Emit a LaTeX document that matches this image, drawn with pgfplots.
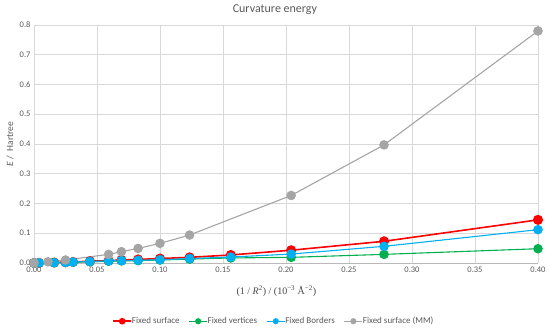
\documentclass[border=0pt]{standalone}
\usepackage{pgfplots}
\pgfplotsset{compat=1.18}
\usepackage{fontspec}
\setmainfont{Carlito}
\newfontfamily\serifx{Liberation Serif}
\definecolor{cRed}{HTML}{FF0000}
\definecolor{cGreen}{HTML}{00B050}
\definecolor{cBlue}{HTML}{00B0F0}
\definecolor{cGray}{HTML}{A5A5A5}
\definecolor{txt}{HTML}{595959}
\definecolor{gridc}{HTML}{D9D9D9}
\begin{document}
\begin{tikzpicture}
\begin{axis}[
  at={(0pt,0pt)}, anchor=origin,
  scale only axis, width=504pt, height=238pt,
  xmin=0, xmax=0.4, ymin=0, ymax=0.8,
  xtick={0,0.05,...,0.401}, ytick={0,0.1,...,0.801},
  grid=major, major grid style={gridc, line width=0.6pt},
  axis x line*=bottom, axis y line*=left,
  x axis line style={draw=gray!55, line width=0.6pt, -},
  y axis line style={draw=none},
  major tick style={draw=none},
  /pgf/number format/assume math mode=true,
  xticklabel style={/pgf/number format/.cd, fixed, fixed zerofill, precision=2},
  yticklabel style={/pgf/number format/.cd, fixed, fixed zerofill, precision=1},
  ticklabel style={font=\fontsize{8.5}{10}\selectfont, text=txt},
  legend style={at={(0.476,-0.21)}, anchor=north, draw=none, fill=none,
    legend columns=4, font=\fontsize{9}{11}\selectfont, text=txt,
    /tikz/every even column/.append style={column sep=7pt},
    /tikz/every odd column/.append style={column sep=-2pt}},
  legend cell align=left,
  legend image code/.code={
    \draw[#1, mark=none] plot coordinates {(0pt,0pt) (18pt,0pt)};
    \draw[#1, mark size=2.5pt, draw=none] plot[mark=*] coordinates {(9pt,0pt)};
  },
  clip=false,
]
\addplot[cRed, line width=1.6pt, mark=*, mark size=4.2pt, mark options={solid, fill=cRed, draw=cRed}] coordinates {
(0,0) (0.004,0.0005) (0.016,0.0015) (0.025,0.0025) (0.0309,0.0035) (0.0444,0.006)
(0.0592,0.008) (0.0694,0.010) (0.0826,0.012) (0.1,0.015) (0.1235,0.019)
(0.1562,0.027) (0.2041,0.043) (0.2778,0.073) (0.4,0.145)};
\addlegendentry{Fixed surface}
\addplot[cGreen, line width=1.1pt, mark=*, mark size=4.2pt, mark options={solid, fill=cGreen, draw=cGreen}] coordinates {
(0,0) (0.004,0.0005) (0.016,0.001) (0.025,0.002) (0.0309,0.003) (0.0444,0.004)
(0.0592,0.006) (0.0694,0.007) (0.0826,0.008) (0.1,0.010) (0.1235,0.013)
(0.1562,0.017) (0.2041,0.019) (0.2778,0.029) (0.4,0.048)};
\addlegendentry{Fixed vertices}
\addplot[cBlue, line width=1.1pt, mark=*, mark size=4.2pt, mark options={solid, fill=cBlue, draw=cBlue}] coordinates {
(0,0) (0.004,0.0005) (0.016,0.001) (0.025,0.002) (0.0309,0.003) (0.0444,0.005)
(0.0592,0.007) (0.0694,0.008) (0.0826,0.009) (0.1,0.011) (0.1235,0.015)
(0.1562,0.020) (0.2041,0.030) (0.2778,0.056) (0.4,0.112)};
\addlegendentry{Fixed Borders}
\addplot[cGray, line width=1.1pt, mark=*, mark size=4.2pt, mark options={solid, fill=cGray, draw=cGray}] coordinates {
(0,0) (0.0111,0.004) (0.025,0.010) (0.0592,0.029) (0.0694,0.038) (0.0826,0.049)
(0.1,0.066) (0.1235,0.094) (0.2041,0.227) (0.2778,0.397) (0.4,0.78)};
\addlegendentry{Fixed surface (MM)}
\node[font=\fontsize{12}{14}\selectfont, text=txt] at (rel axis cs:0.478,1.065) {Curvature energy};
\node[font=\fontsize{10}{12}\selectfont\serifx, text=txt!80!black, anchor=center] at (rel axis cs:0.481,-0.118)
  {(1 / \textit{R}\textsuperscript{2}) / (10\textsuperscript{−3} Å\textsuperscript{−2})};
\node[font=\fontsize{9.5}{11}\selectfont, text=txt, rotate=90] at (rel axis cs:-0.0475,0.50) {\textit{E} /\ \ Hartree};
\end{axis}
\path (-34pt,-59pt) rectangle (516pt,263pt);
\end{tikzpicture}
\end{document}
